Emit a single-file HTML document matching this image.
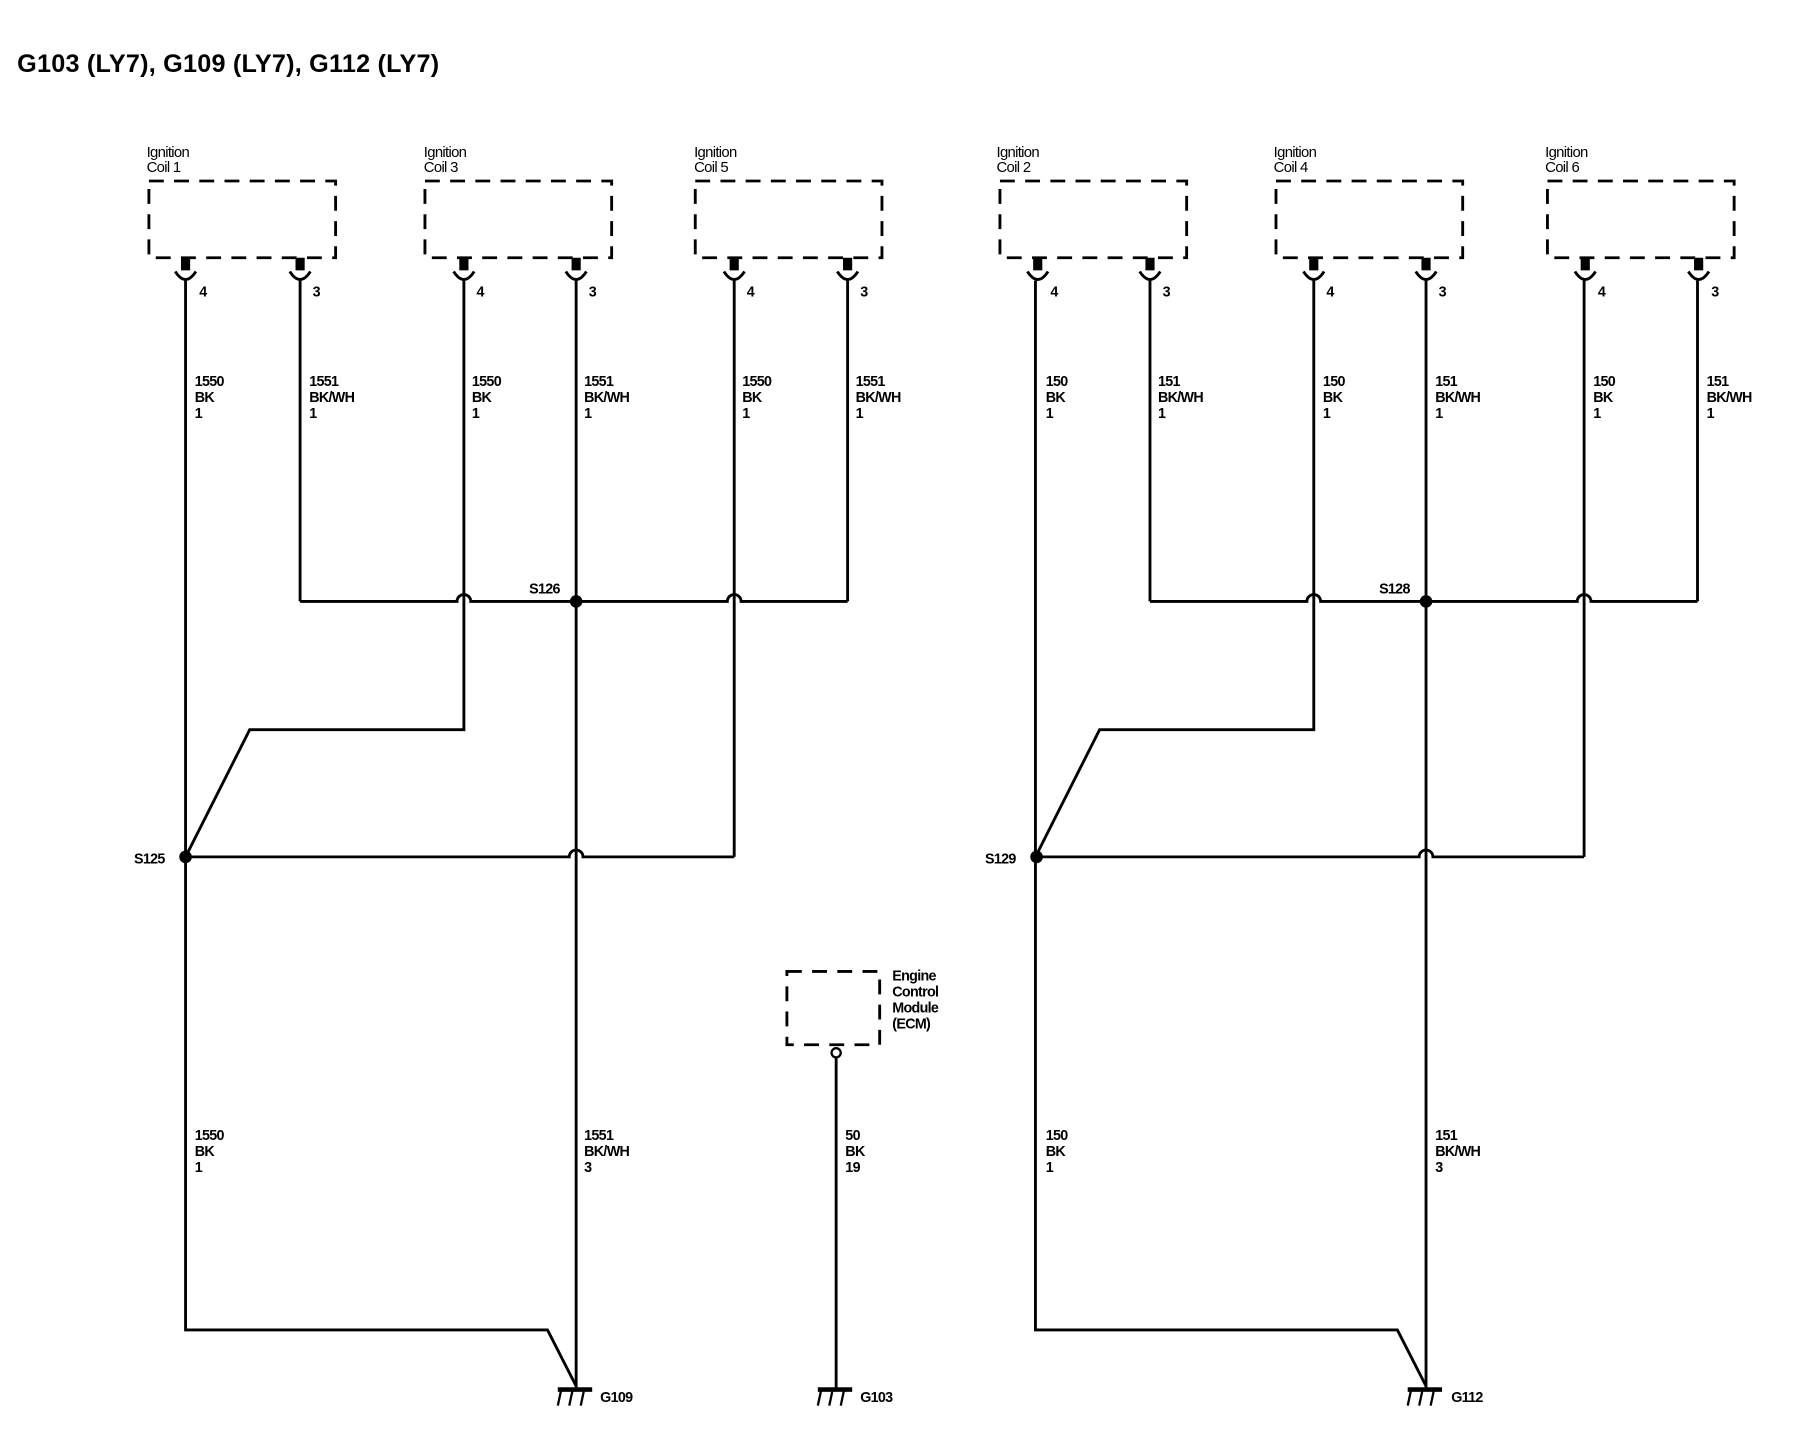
<!DOCTYPE html>
<html><head><meta charset="utf-8"><style>
html,body{margin:0;padding:0;background:#fff;}
svg{display:block;}
text{font-family:"Liberation Sans",sans-serif;fill:#000;}
.l{font-size:12.5px;font-weight:bold;letter-spacing:-0.6px;}
.c{font-size:13px;letter-spacing:-0.6px;}
</style></head><body>
<svg width="1796" height="1456" viewBox="0 0 1568 1271" preserveAspectRatio="none" xmlns="http://www.w3.org/2000/svg">
<defs>
<g id="coil">
  <rect x="0" y="0" width="163" height="67" fill="none" stroke="#000" stroke-width="2.5" stroke-dasharray="13,9"/>
</g>
<g id="pin">
  <rect x="-4" y="67" width="8" height="11" fill="#000"/>
  <path d="M-9,79 Q0,93 9,79" fill="none" stroke="#000" stroke-width="2.5"/>
</g>
<g id="gnd">
  <rect x="-16" y="1211" width="30" height="4" fill="#000"/>
  <path d="M-13,1213 L-16,1227 M-3,1213 L-6,1227 M7,1213 L4,1227" stroke="#000" stroke-width="2"/>
</g>
<g id="half" fill="none" stroke="#000" stroke-width="2.5">
  <path d="M162,245 V1161 H478 L503,1210"/>
  <path d="M262,245 V525"/>
  <path d="M405,245 V637 H218 L162,748"/>
  <path d="M503,245 V1212"/>
  <path d="M641,245 V748"/>
  <path d="M740,245 V525"/>
  <path d="M262,525 H399 A6,6 0 0 1 411,525 H635 A6,6 0 0 1 647,525 H740"/>
  <path d="M162,748 H497 A6,6 0 0 1 509,748 H641"/>
</g>
</defs>

<text x="15" y="63" style="font-size:22px;font-weight:bold;letter-spacing:0.2px;">G103 (LY7), G109 (LY7), G112 (LY7)</text>

<g transform="translate(130,158)"><use href="#coil"/><use href="#pin" x="32"/><use href="#pin" x="132"/></g>
<g transform="translate(371,158)"><use href="#coil"/><use href="#pin" x="34"/><use href="#pin" x="132"/></g>
<g transform="translate(607,158)"><use href="#coil"/><use href="#pin" x="34"/><use href="#pin" x="133"/></g>
<g transform="translate(873,158)"><use href="#coil"/><use href="#pin" x="33"/><use href="#pin" x="131"/></g>
<g transform="translate(1114,158)"><use href="#coil"/><use href="#pin" x="33"/><use href="#pin" x="131"/></g>
<g transform="translate(1351,158)"><use href="#coil"/><use href="#pin" x="33"/><use href="#pin" x="132"/></g>

<g class="c">
<text x="128" y="137">Ignition</text><text x="128" y="150">Coil 1</text>
<text x="370" y="137">Ignition</text><text x="370" y="150">Coil 3</text>
<text x="606" y="137">Ignition</text><text x="606" y="150">Coil 5</text>
<text x="870" y="137">Ignition</text><text x="870" y="150">Coil 2</text>
<text x="1112" y="137">Ignition</text><text x="1112" y="150">Coil 4</text>
<text x="1349" y="137">Ignition</text><text x="1349" y="150">Coil 6</text>
</g>

<use href="#half"/>
<use href="#half" x="742"/>

<circle cx="503" cy="525" r="5.5" fill="#000"/>
<circle cx="162" cy="748" r="5.5" fill="#000"/>
<circle cx="1245" cy="525" r="5.5" fill="#000"/>
<circle cx="905" cy="748" r="5.5" fill="#000"/>

<g class="l">
<text x="174" y="259">4</text><text x="273" y="259">3</text>
<text x="416" y="259">4</text><text x="514" y="259">3</text>
<text x="652" y="259">4</text><text x="751" y="259">3</text>
<text x="917" y="259">4</text><text x="1015" y="259">3</text>
<text x="1158" y="259">4</text><text x="1256" y="259">3</text>
<text x="1395" y="259">4</text><text x="1494" y="259">3</text>

<text x="462" y="518">S126</text>
<text x="1204" y="518">S128</text>
<text x="117" y="754">S125</text>
<text x="860" y="754">S129</text>
</g>

<g class="l">
<text x="170" y="337">1550</text><text x="170" y="351">BK</text><text x="170" y="365">1</text>
<text x="270" y="337">1551</text><text x="270" y="351">BK/WH</text><text x="270" y="365">1</text>
<text x="412" y="337">1550</text><text x="412" y="351">BK</text><text x="412" y="365">1</text>
<text x="510" y="337">1551</text><text x="510" y="351">BK/WH</text><text x="510" y="365">1</text>
<text x="648" y="337">1550</text><text x="648" y="351">BK</text><text x="648" y="365">1</text>
<text x="747" y="337">1551</text><text x="747" y="351">BK/WH</text><text x="747" y="365">1</text>
<text x="913" y="337">150</text><text x="913" y="351">BK</text><text x="913" y="365">1</text>
<text x="1011" y="337">151</text><text x="1011" y="351">BK/WH</text><text x="1011" y="365">1</text>
<text x="1155" y="337">150</text><text x="1155" y="351">BK</text><text x="1155" y="365">1</text>
<text x="1253" y="337">151</text><text x="1253" y="351">BK/WH</text><text x="1253" y="365">1</text>
<text x="1391" y="337">150</text><text x="1391" y="351">BK</text><text x="1391" y="365">1</text>
<text x="1490" y="337">151</text><text x="1490" y="351">BK/WH</text><text x="1490" y="365">1</text>

<text x="170" y="995">1550</text><text x="170" y="1009">BK</text><text x="170" y="1023">1</text>
<text x="510" y="995">1551</text><text x="510" y="1009">BK/WH</text><text x="510" y="1023">3</text>
<text x="738" y="995">50</text><text x="738" y="1009">BK</text><text x="738" y="1023">19</text>
<text x="913" y="995">150</text><text x="913" y="1009">BK</text><text x="913" y="1023">1</text>
<text x="1253" y="995">151</text><text x="1253" y="1009">BK/WH</text><text x="1253" y="1023">3</text>
</g>

<rect x="687" y="848" width="81" height="64" fill="none" stroke="#000" stroke-width="2.5" stroke-dasharray="13,9"/>
<circle cx="730" cy="919" r="4" fill="#fff" stroke="#000" stroke-width="2"/>
<path d="M730,923 V1212" stroke="#000" stroke-width="2.5"/>
<g class="l">
<text x="779" y="856">Engine</text><text x="779" y="870">Control</text><text x="779" y="884">Module</text><text x="779" y="898">(ECM)</text>
</g>

<use href="#gnd" x="503"/>
<use href="#gnd" x="730"/>
<use href="#gnd" x="1245"/>
<g class="l">
<text x="524" y="1224">G109</text>
<text x="751" y="1224">G103</text>
<text x="1267" y="1224">G112</text>
</g>
</svg>
</body></html>
